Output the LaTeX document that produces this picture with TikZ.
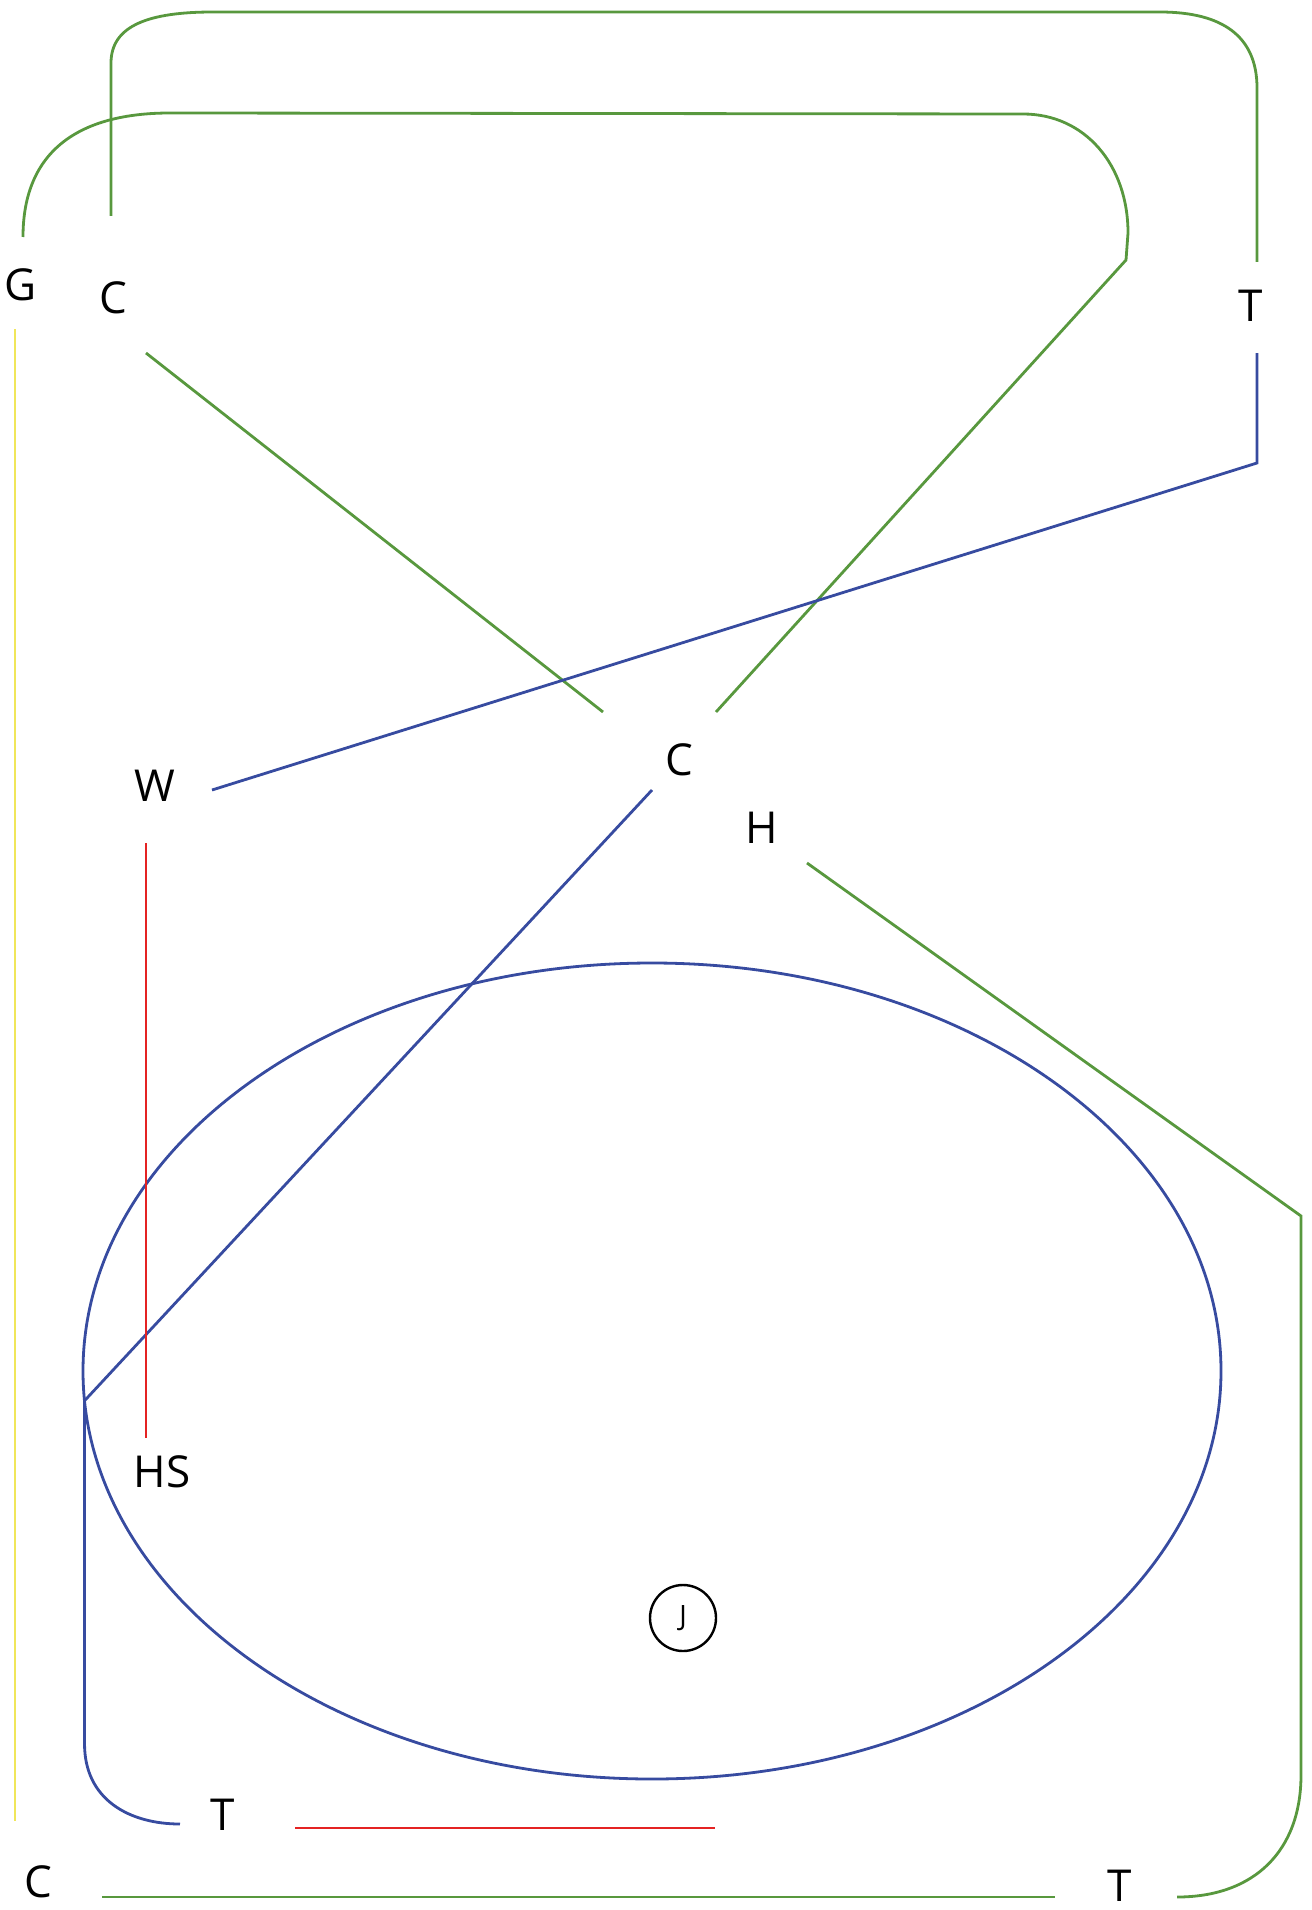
\documentclass[tikz,border=0pt]{standalone}
\usepackage{fontspec}
\setmainfont{Open Sans}
\usetikzlibrary{shapes.geometric}
\definecolor{lgreen}{RGB}{88,152,62}
\definecolor{lblue}{RGB}{55,75,160}
\definecolor{lred}{RGB}{228,35,35}
\definecolor{lyellow}{RGB}{240,230,90}
\begin{document}
\begin{tikzpicture}[x=1pt,y=-1pt,
  line width=2.8pt,
  lbl/.style={font=\fontsize{44}{50}\selectfont, inner sep=0pt},
  gline/.style={draw=lgreen, line width=2.8pt},
  bline/.style={draw=lblue, line width=2.8pt},
  rline/.style={draw=lred, line width=2.8pt},
  yline/.style={draw=lyellow, line width=2.8pt}]
\useasboundingbox (0,0) rectangle (1311,1910);
% labels
\node[lbl] (G)  at (21,285) {G};
\node[lbl] (C1) at (113,298) {C};
\node[lbl] (T1) at (1251,306) {T};
\node[lbl] (C2) at (679,760) {C};
\node[lbl] (H)  at (762,828) {H};
\node[lbl] (W)  at (155,786) {W};
\node[lbl] (HS) at (162,1472) {HS};
\node[lbl] (T2) at (223,1815) {T};
\node[lbl] (C3) at (38,1882) {C};
\node[lbl] (T3) at (1120,1886) {T};
% ellipse and circle
\node[draw=lblue, ellipse, line width=2.8pt, inner sep=0pt, outer sep=0pt,
      minimum width=1138, minimum height=816] (E) at (652,1371) {};
\node[draw=black, circle, line width=2.4pt, inner sep=0pt, minimum size=66,
      font=\fontsize{28}{32}\selectfont] (J) at (683,1618) {J};
% free-end coordinates
\coordinate (c1a) at (111,216);
\coordinate (t1a) at (1257,262);
\coordinate (ga)  at (23,237);
\coordinate (c2a) at (716,712);
\coordinate (c1b) at (146,353);
\coordinate (c2b) at (603,712);
\coordinate (t1b) at (1257,353);
\coordinate (wa)  at (212,790);
\coordinate (c2c) at (652,790);
\coordinate (t2a) at (180,1824);
\coordinate (wb)  at (146,843);
\coordinate (hsa) at (146,1438);
\coordinate (ha)  at (807,863);
\coordinate (t3a) at (1177,1897);
\coordinate (c3a) at (102,1897);
\coordinate (t3b) at (1055,1897);
\coordinate (ra)  at (295,1828);
\coordinate (rb)  at (715,1828);
\coordinate (gb)  at (15,329);
\coordinate (gc)  at (15,1821);
% green connectors
\draw[gline] (c1a) -- (111,63) .. controls (111,25) and (150,12) .. (213,12)
  -- (1160,12) .. controls (1222,12) and (1257,36) .. (1257,88) -- (t1a);
\draw[gline] (ga) .. controls (23,150) and (80,113) .. (170,113)
  -- (1023,114) .. controls (1085,114) and (1128,165) .. (1128,233)
  -- (1126,260) -- (c2a);
\draw[gline] (c1b) -- (c2b);
\draw[gline] (ha) -- (1301,1216) -- (1301,1775)
  .. controls (1301,1850) and (1255,1897) .. (t3a);
\draw[gline] (c3a) -- (t3b);
% blue connectors
\draw[bline] (t1b) -- (1257,463) -- (wa);
\draw[bline] (c2c) -- (E.183) -- (E.183 |- 0,1743)
  .. controls (84,1800) and (130,1824) .. (t2a);
% red and yellow
\draw[rline] (wb) -- (hsa);
\draw[rline] (ra) -- (rb);
\draw[yline] (gb) -- (gc);
\end{tikzpicture}
\end{document}
